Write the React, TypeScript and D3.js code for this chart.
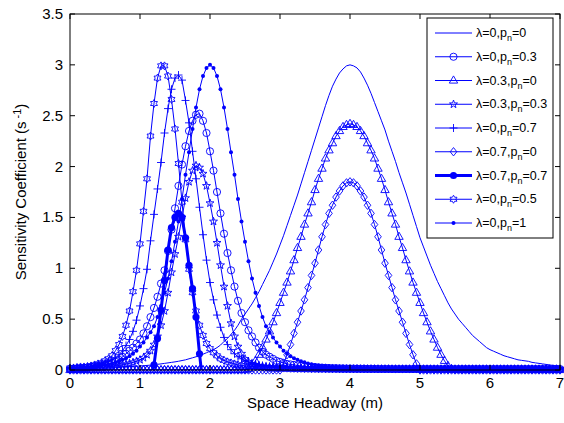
import React from "react";
import * as d3 from "d3";

// sampling grid of space headway (m), step 0.05
const xGrid = [
  0, 0.05, 0.1, 0.15, 0.2, 0.25, 0.3, 0.35, 0.4, 0.45, 0.5, 0.55, 0.6, 0.65, 0.7, 0.75, 0.8, 0.85, 0.9, 0.95,
  1, 1.05, 1.1, 1.15, 1.2, 1.25, 1.3, 1.35, 1.4, 1.45, 1.5, 1.55, 1.6, 1.65, 1.7, 1.75, 1.8, 1.85, 1.9, 1.95,
  2, 2.05, 2.1, 2.15, 2.2, 2.25, 2.3, 2.35, 2.4, 2.45, 2.5, 2.55, 2.6, 2.65, 2.7, 2.75, 2.8, 2.85, 2.9, 2.95,
  3, 3.05, 3.1, 3.15, 3.2, 3.25, 3.3, 3.35, 3.4, 3.45, 3.5, 3.55, 3.6, 3.65, 3.7, 3.75, 3.8, 3.85, 3.9, 3.95,
  4, 4.05, 4.1, 4.15, 4.2, 4.25, 4.3, 4.35, 4.4, 4.45, 4.5, 4.55, 4.6, 4.65, 4.7, 4.75, 4.8, 4.85, 4.9, 4.95,
  5, 5.05, 5.1, 5.15, 5.2, 5.25, 5.3, 5.35, 5.4, 5.45, 5.5, 5.55, 5.6, 5.65, 5.7, 5.75, 5.8, 5.85, 5.9, 5.95,
  6, 6.05, 6.1, 6.15, 6.2, 6.25, 6.3, 6.35, 6.4, 6.45, 6.5, 6.55, 6.6, 6.65, 6.7, 6.75, 6.8, 6.85, 6.9, 6.95,
  7,
];

// λ=0, pn=0
const lam0pn0 = [
  0.011, 0.012, 0.013, 0.014, 0.015, 0.016, 0.017, 0.018, 0.019, 0.02, 0.021, 0.022, 0.024, 0.025, 0.027, 0.029, 0.031, 0.033, 0.035, 0.037,
  0.04, 0.042, 0.045, 0.048, 0.052, 0.056, 0.06, 0.065, 0.07, 0.075, 0.08, 0.086, 0.093, 0.1, 0.11, 0.12, 0.13, 0.14, 0.155, 0.17,
  0.185, 0.2, 0.22, 0.245, 0.28, 0.31, 0.35, 0.39, 0.44, 0.5, 0.55, 0.6, 0.65, 0.71, 0.77, 0.84, 0.91, 0.98, 1.06, 1.14,
  1.23, 1.32, 1.42, 1.52, 1.62, 1.72, 1.83, 1.94, 2.05, 2.16, 2.27, 2.38, 2.49, 2.6, 2.7, 2.79, 2.86, 2.92, 2.96, 2.99,
  3.0, 2.99, 2.97, 2.93, 2.87, 2.8, 2.72, 2.63, 2.54, 2.45, 2.36, 2.25, 2.15, 2.05, 1.94, 1.84, 1.74, 1.63, 1.52, 1.41,
  1.3, 1.21, 1.12, 1.03, 0.95, 0.87, 0.8, 0.73, 0.66, 0.6, 0.55, 0.5, 0.46, 0.42, 0.38, 0.34, 0.31, 0.28, 0.25, 0.22,
  0.2, 0.185, 0.17, 0.155, 0.14, 0.13, 0.12, 0.11, 0.1, 0.095, 0.09, 0.085, 0.075, 0.07, 0.065, 0.06, 0.055, 0.05, 0.045, 0.04,
  0.04,
];

// λ=0, pn=0.3
const lam0pn03 = [
  0.01, 0.012, 0.015, 0.017, 0.02, 0.025, 0.03, 0.035, 0.04, 0.045, 0.05, 0.06, 0.07, 0.08, 0.1, 0.13, 0.16, 0.19, 0.22, 0.26,
  0.3, 0.36, 0.43, 0.52, 0.61, 0.72, 0.85, 0.98, 1.17, 1.38, 1.59, 1.81, 2.02, 2.2, 2.35, 2.45, 2.51, 2.52, 2.45, 2.33,
  2.15, 1.96, 1.75, 1.54, 1.34, 1.15, 0.98, 0.82, 0.68, 0.56, 0.47, 0.39, 0.33, 0.27, 0.22, 0.18, 0.15, 0.13, 0.11, 0.09,
  0.08, 0.07, 0.06, 0.055, 0.05, 0.045, 0.04, 0.037, 0.034, 0.031, 0.028, 0.026, 0.024, 0.022, 0.02, 0.019, 0.018, 0.017, 0.016, 0.015,
  0.015, 0.014, 0.014, 0.013, 0.013, 0.012, 0.012, 0.012, 0.011, 0.011, 0.011, 0.011, 0.01, 0.01, 0.01, 0.01, 0.01, 0.01, 0.01, 0.01,
  0.01, 0.01, 0.01, 0.01, 0.01, 0.01, 0.01, 0.01, 0.01, 0.01, 0.01, 0.01, 0.01, 0.01, 0.01, 0.01, 0.01, 0.01, 0.01, 0.01,
  0.01, 0.01, 0.01, 0.01, 0.01, 0.01, 0.01, 0.01, 0.01, 0.01, 0.01, 0.01, 0.01, 0.01, 0.01, 0.01, 0.01, 0.01, 0.01, 0.01,
  0.01,
];

// λ=0.3, pn=0
const lam03pn0 = [
  0, 0, 0, 0, 0, 0, 0, 0, 0, 0, 0, 0, 0, 0, 0, 0, 0, 0, 0, 0,
  0, 0, 0, 0, 0, 0, 0, 0, 0, 0, 0, 0, 0, 0, 0, 0, 0, 0, 0, 0,
  0, 0, 0, 0, 0, 0, 0, 0, 0, 0, 0, 0.01, 0.04, 0.09, 0.15, 0.22, 0.3, 0.38, 0.47, 0.56,
  0.66, 0.76, 0.86, 0.97, 1.08, 1.2, 1.31, 1.43, 1.54, 1.65, 1.77, 1.88, 1.98, 2.08, 2.16, 2.23, 2.3, 2.35, 2.39, 2.41,
  2.42, 2.41, 2.39, 2.35, 2.3, 2.23, 2.16, 2.08, 1.98, 1.88, 1.77, 1.65, 1.54, 1.43, 1.31, 1.2, 1.08, 0.97, 0.86, 0.76,
  0.66, 0.56, 0.47, 0.38, 0.3, 0.22, 0.15, 0.09, 0.04, 0.01, 0, 0, 0, 0, 0, 0, 0, 0, 0, 0,
  0, 0, 0, 0, 0, 0, 0, 0, 0, 0, 0, 0, 0, 0, 0, 0, 0, 0, 0, 0,
  0,
];

// λ=0.3, pn=0.3
const lam03pn03 = [
  0.01, 0.01, 0.012, 0.013, 0.015, 0.017, 0.019, 0.021, 0.023, 0.026, 0.029, 0.032, 0.036, 0.04, 0.045, 0.05, 0.057, 0.065, 0.075, 0.087,
  0.1, 0.12, 0.15, 0.19, 0.25, 0.33, 0.44, 0.58, 0.76, 0.96, 1.14, 1.31, 1.5, 1.69, 1.85, 1.96, 2.01, 1.99, 1.93, 1.81,
  1.64, 1.46, 1.25, 1.03, 0.82, 0.63, 0.46, 0.33, 0.23, 0.16, 0.11, 0.08, 0.06, 0.05, 0.04, 0.035, 0.03, 0.027, 0.024, 0.022,
  0.02, 0.019, 0.018, 0.017, 0.016, 0.015, 0.015, 0.014, 0.014, 0.013, 0.013, 0.012, 0.012, 0.012, 0.011, 0.011, 0.011, 0.01, 0.01, 0.01,
  0.01, 0.01, 0.01, 0.01, 0.01, 0.01, 0.01, 0.01, 0.01, 0.01, 0.01, 0.01, 0.01, 0.01, 0.01, 0.01, 0.01, 0.01, 0.01, 0.01,
  0.01, 0.01, 0.01, 0.01, 0.01, 0.01, 0.01, 0.01, 0.01, 0.01, 0.01, 0.01, 0.01, 0.01, 0.01, 0.01, 0.01, 0.01, 0.01, 0.01,
  0.01, 0.01, 0.01, 0.01, 0.01, 0.01, 0.01, 0.01, 0.01, 0.01, 0.01, 0.01, 0.01, 0.01, 0.01, 0.01, 0.01, 0.01, 0.01, 0.01,
  0.01,
];

// λ=0, pn=0.7
const lam0pn07 = [
  0.02, 0.02, 0.022, 0.024, 0.025, 0.028, 0.035, 0.04, 0.05, 0.06, 0.07, 0.085, 0.1, 0.12, 0.15, 0.19, 0.24, 0.3, 0.38, 0.49,
  0.63, 0.8, 0.99, 1.27, 1.53, 1.78, 2.04, 2.33, 2.57, 2.76, 2.87, 2.9, 2.85, 2.65, 2.43, 2.15, 1.88, 1.6, 1.33, 1.08,
  0.86, 0.69, 0.54, 0.42, 0.32, 0.25, 0.2, 0.16, 0.13, 0.11, 0.09, 0.08, 0.07, 0.06, 0.05, 0.045, 0.04, 0.037, 0.034, 0.031,
  0.03, 0.028, 0.026, 0.024, 0.022, 0.021, 0.02, 0.019, 0.018, 0.017, 0.016, 0.015, 0.015, 0.014, 0.014, 0.013, 0.013, 0.012, 0.012, 0.012,
  0.011, 0.011, 0.011, 0.01, 0.01, 0.01, 0.01, 0.01, 0.01, 0.01, 0.01, 0.01, 0.01, 0.01, 0.01, 0.01, 0.01, 0.01, 0.01, 0.01,
  0.01, 0.01, 0.01, 0.01, 0.01, 0.01, 0.01, 0.01, 0.01, 0.01, 0.01, 0.01, 0.01, 0.01, 0.01, 0.01, 0.01, 0.01, 0.01, 0.01,
  0.01, 0.01, 0.01, 0.01, 0.01, 0.01, 0.01, 0.01, 0.01, 0.01, 0.01, 0.01, 0.01, 0.01, 0.01, 0.01, 0.01, 0.01, 0.01, 0.01,
  0.01,
];

// λ=0.7, pn=0
const lam07pn0 = [
  0, 0, 0, 0, 0, 0, 0, 0, 0, 0, 0, 0, 0, 0, 0, 0, 0, 0, 0, 0,
  0, 0, 0, 0, 0, 0, 0, 0, 0, 0, 0, 0, 0, 0, 0, 0, 0, 0, 0, 0,
  0, 0, 0, 0, 0, 0, 0, 0, 0, 0, 0, 0, 0, 0, 0, 0, 0, 0, 0, 0,
  0, 0.06, 0.15, 0.25, 0.36, 0.47, 0.58, 0.69, 0.81, 0.93, 1.05, 1.18, 1.31, 1.43, 1.54, 1.62, 1.7, 1.76, 1.81, 1.84,
  1.85, 1.84, 1.81, 1.76, 1.7, 1.62, 1.54, 1.43, 1.31, 1.18, 1.05, 0.93, 0.81, 0.69, 0.58, 0.47, 0.36, 0.25, 0.15, 0.06,
  0, 0, 0, 0, 0, 0, 0, 0, 0, 0, 0, 0, 0, 0, 0, 0, 0, 0, 0, 0,
  0, 0, 0, 0, 0, 0, 0, 0, 0, 0, 0, 0, 0, 0, 0, 0, 0, 0, 0, 0,
  0,
];

// λ=0.7, pn=0.7 (only defined on its own short range)
const lam07pn07X = [1.15, 1.2, 1.25, 1.3, 1.35, 1.4, 1.45, 1.5, 1.55, 1.6, 1.65, 1.7, 1.75, 1.8, 1.85, 1.9];
const lam07pn07 = [-0.1, 0.05, 0.31, 0.59, 0.88, 1.18, 1.4, 1.5, 1.54, 1.5, 1.3, 1.03, 0.8, 0.52, 0.16, -0.15];

// λ=0, pn=0.5
const lam0pn05 = [
  0.02, 0.02, 0.025, 0.03, 0.03, 0.035, 0.04, 0.05, 0.06, 0.07, 0.09, 0.11, 0.14, 0.19, 0.25, 0.33, 0.44, 0.58, 0.77, 0.98,
  1.24, 1.56, 1.88, 2.3, 2.62, 2.87, 2.99, 2.99, 2.89, 2.66, 2.37, 2.03, 1.65, 1.28, 0.99, 0.76, 0.58, 0.44, 0.34, 0.26,
  0.21, 0.17, 0.14, 0.11, 0.095, 0.08, 0.07, 0.06, 0.05, 0.045, 0.04, 0.037, 0.035, 0.032, 0.03, 0.028, 0.026, 0.024, 0.022, 0.02,
  0.02, 0.019, 0.018, 0.017, 0.016, 0.015, 0.015, 0.014, 0.014, 0.013, 0.013, 0.012, 0.012, 0.012, 0.011, 0.011, 0.011, 0.01, 0.01, 0.01,
  0.01, 0.01, 0.01, 0.01, 0.01, 0.01, 0.01, 0.01, 0.01, 0.01, 0.01, 0.01, 0.01, 0.01, 0.01, 0.01, 0.01, 0.01, 0.01, 0.01,
  0.01, 0.01, 0.01, 0.01, 0.01, 0.01, 0.01, 0.01, 0.01, 0.01, 0.01, 0.01, 0.01, 0.01, 0.01, 0.01, 0.01, 0.01, 0.01, 0.01,
  0.01, 0.01, 0.01, 0.01, 0.01, 0.01, 0.01, 0.01, 0.01, 0.01, 0.01, 0.01, 0.01, 0.01, 0.01, 0.01, 0.01, 0.01, 0.01, 0.01,
  0.01,
];

// λ=0, pn=1
const lam0pn1 = [
  0.02, 0.022, 0.025, 0.027, 0.03, 0.032, 0.035, 0.037, 0.04, 0.045, 0.05, 0.057, 0.065, 0.075, 0.085, 0.1, 0.115, 0.135, 0.16, 0.19,
  0.23, 0.27, 0.32, 0.37, 0.43, 0.52, 0.63, 0.76, 0.9, 1.07, 1.26, 1.46, 1.68, 1.92, 2.14, 2.37, 2.58, 2.76, 2.89, 2.97,
  3.0, 2.97, 2.89, 2.76, 2.58, 2.37, 2.14, 1.92, 1.68, 1.46, 1.26, 1.07, 0.9, 0.76, 0.63, 0.52, 0.43, 0.37, 0.32, 0.27,
  0.23, 0.19, 0.16, 0.135, 0.115, 0.1, 0.085, 0.075, 0.065, 0.057, 0.05, 0.045, 0.04, 0.037, 0.035, 0.032, 0.03, 0.028, 0.026, 0.025,
  0.023, 0.022, 0.021, 0.02, 0.019, 0.018, 0.017, 0.016, 0.015, 0.015, 0.014, 0.014, 0.013, 0.013, 0.012, 0.012, 0.012, 0.011, 0.011, 0.011,
  0.01, 0.01, 0.01, 0.01, 0.01, 0.01, 0.01, 0.01, 0.01, 0.01, 0.01, 0.01, 0.01, 0.01, 0.01, 0.01, 0.01, 0.01, 0.01, 0.01,
  0.01, 0.01, 0.01, 0.01, 0.01, 0.01, 0.01, 0.01, 0.01, 0.01, 0.01, 0.01, 0.01, 0.01, 0.01, 0.01, 0.01, 0.01, 0.01, 0.01,
  0.01,
];

const lambdaLabels = ["0", "0", "0.3", "0.3", "0", "0.7", "0.7", "0", "0"];
const pnLabels = ["0", "0.3", "0", "0.3", "0.7", "0", "0.7", "0.5", "1"];
const xTicks = [0, 1, 2, 3, 4, 5, 6, 7];
const yTicks = [0, 0.5, 1, 1.5, 2, 2.5, 3, 3.5];

const BLUE = "#0000ff";
const FONT = "'Liberation Sans', Arial, Helvetica, sans-serif";

const series = [
  { xs: xGrid, ys: lam0pn0, marker: "none", width: 1 },
  { xs: xGrid, ys: lam0pn03, marker: "circle", width: 1 },
  { xs: xGrid, ys: lam03pn0, marker: "triangle", width: 1 },
  { xs: xGrid, ys: lam03pn03, marker: "pentagram", width: 1 },
  { xs: xGrid, ys: lam0pn07, marker: "plus", width: 1 },
  { xs: xGrid, ys: lam07pn0, marker: "diamond", width: 1 },
  { xs: lam07pn07X, ys: lam07pn07, marker: "bigdot", width: 3 },
  { xs: xGrid, ys: lam0pn05, marker: "hexagram", width: 1 },
  { xs: xGrid, ys: lam0pn1, marker: "dot", width: 1 },
];

function starPath(n: number, outer: number, inner: number) {
  const pts: string[] = [];
  for (let k = 0; k < n * 2; k++) {
    const r = k % 2 === 0 ? outer : inner;
    const a = -Math.PI / 2 + (k * Math.PI) / n;
    pts.push(`${(r * Math.cos(a)).toFixed(2)},${(r * Math.sin(a)).toFixed(2)}`);
  }
  return "M" + pts.join("L") + "Z";
}

const pentagram = starPath(5, 4.2, 1.7);
const hexagram = starPath(6, 4, 2.3);

function Marker({ kind, x, y }: { kind: string; x: number; y: number }) {
  const t = `translate(${x},${y})`;
  switch (kind) {
    case "circle":
      return <circle cx={x} cy={y} r={3.6} fill="none" stroke={BLUE} strokeWidth={0.9} />;
    case "triangle":
      return <path transform={t} d="M0,-4.6L4.2,2.6L-4.2,2.6Z" fill="none" stroke={BLUE} strokeWidth={0.9} />;
    case "diamond":
      return <path transform={t} d="M0,-4.2L3.3,0L0,4.2L-3.3,0Z" fill="none" stroke={BLUE} strokeWidth={0.9} />;
    case "pentagram":
      return <path transform={t} d={pentagram} fill="none" stroke={BLUE} strokeWidth={0.9} />;
    case "hexagram":
      return <path transform={t} d={hexagram} fill="none" stroke={BLUE} strokeWidth={0.9} />;
    case "plus":
      return <path transform={t} d="M-4,0H4M0,-4V4" fill="none" stroke={BLUE} strokeWidth={0.9} />;
    case "dot":
      return <circle cx={x} cy={y} r={2} fill={BLUE} />;
    case "bigdot":
      return <circle cx={x} cy={y} r={3.6} fill={BLUE} />;
    default:
      return null;
  }
}

export default function App() {
  const W = 564;
  const H = 423;
  const left = 70;
  const right = 560;
  const top = 14;
  const bottom = 370;

  const x = d3.scaleLinear().domain([0, 7]).range([left, right]);
  const y = d3.scaleLinear().domain([0, 3.5]).range([bottom, top]);
  const tick = 5;

  const legendX = 427;
  const legendY = 18;
  const legendW = 126;
  const legendH = 220;
  const rowH = 23.75;

  return (
    <svg
      width={W}
      height={H}
      style={{ position: "absolute", left: 0, top: 0, background: "#fff" }}
      fontFamily={FONT}
    >
      <defs>
        <clipPath id="plotArea">
          <rect x={left} y={top} width={right - left} height={bottom - top} />
        </clipPath>
      </defs>
      <rect x={0} y={0} width={W} height={H} fill="#fff" />

      {/* curves */}
      {series.map((s, si) => {
        const pts = s.xs.map((xv, i) => [xv, s.ys[i]] as [number, number]);
        const line = d3
          .line<[number, number]>()
          .x(d => x(d[0]))
          .y(d => y(d[1]));
        return (
          <g key={si}>
            <path
              d={line(pts) || ""}
              fill="none"
              stroke={BLUE}
              strokeWidth={s.width}
              strokeLinejoin="round"
              clipPath="url(#plotArea)"
            />
            {s.marker !== "none" &&
              pts
                .filter(d => d[1] >= 0)
                .map((d, i) => <Marker key={i} kind={s.marker} x={x(d[0])} y={y(d[1])} />)}
          </g>
        );
      })}

      {/* axes box */}
      <rect x={left} y={top} width={right - left} height={bottom - top} fill="none" stroke="#000" strokeWidth={1} />
      {xTicks.map(t => (
        <g key={"xt" + t}>
          <line x1={x(t)} x2={x(t)} y1={bottom} y2={bottom - tick} stroke="#000" />
          <line x1={x(t)} x2={x(t)} y1={top} y2={top + tick} stroke="#000" />
          <text x={x(t)} y={bottom + 18} fontSize={15} textAnchor="middle">
            {t}
          </text>
        </g>
      ))}
      {yTicks.map(t => (
        <g key={"yt" + t}>
          <line x1={left} x2={left + tick} y1={y(t)} y2={y(t)} stroke="#000" />
          <line x1={right} x2={right - tick} y1={y(t)} y2={y(t)} stroke="#000" />
          <text x={left - 7} y={y(t) + 5} fontSize={15} textAnchor="end">
            {t}
          </text>
        </g>
      ))}

      <text x={(left + right) / 2} y={408} fontSize={15} textAnchor="middle">
        Space Headway (m)
      </text>
      <text transform={`translate(26,${(top + bottom) / 2}) rotate(-90)`} fontSize={15} textAnchor="middle">
        Sensitivity Coefficient (s
        <tspan dx={3} dy={-5} fontSize={11}>
          -1
        </tspan>
        <tspan dy={5}>)</tspan>
      </text>

      {/* legend */}
      <rect x={legendX} y={legendY} width={legendW} height={legendH} fill="#fff" stroke="#000" strokeWidth={1} />
      {series.map((s, i) => {
        const cy = legendY + 15 + i * rowH;
        return (
          <g key={"lg" + i}>
            <line x1={435} x2={472} y1={cy} y2={cy} stroke={BLUE} strokeWidth={s.width} />
            <Marker kind={s.marker} x={453.5} y={cy} />
            <text x={476} y={cy + 4} fontSize={12.5}>
              λ={lambdaLabels[i]},p
              <tspan dy={4} fontSize={9}>
                n
              </tspan>
              <tspan dy={-4}>={pnLabels[i]}</tspan>
            </text>
          </g>
        );
      })}
    </svg>
  );
}
